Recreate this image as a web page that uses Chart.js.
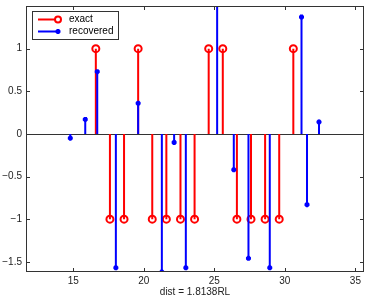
<!DOCTYPE html>
<html>
<head>
<meta charset="utf-8">
<script src="https://cdn.jsdelivr.net/npm/chart.js@4/dist/chart.umd.min.js"></script>
<style>
  html, body { margin: 0; padding: 0; background: #fff; }
  #wrap { width: 376px; height: 299px; }
</style>
</head>
<body>
<div id="wrap"><canvas id="chart" width="376" height="299"></canvas></div>
<script>
// exact spikes
var exactX = [16.6, 17.6, 18.6, 19.6, 20.6, 21.6, 22.6, 23.6, 24.6, 25.6, 26.6, 27.6, 28.6, 29.6, 30.6];
var exactY = [1, -1, -1, 1, -1, -1, -1, -1, 1, 1, -1, -1, -1, -1, 1];
// recovered spikes
var recX = [14.79, 15.85, 16.70, 18.02, 19.60, 21.28, 22.15, 22.98, 25.20, 26.38, 27.42, 28.93, 31.18, 31.57, 32.42];
var recY = [-0.05, 0.17, 0.73, -1.57, 0.36, -1.62, -0.10, -1.57, 1.65, -0.42, -1.46, -1.57, 1.37, -0.83, 0.14];
var xTicks = [15, 20, 25, 30, 35];
var yTicks = [-1.5, -1, -0.5, 0, 0.5, 1];
var xLimits = [11.65, 35.61];
var yLimits = [-1.62, 1.5];

var RED = '#ff0000';
var BLUE = '#0000ff';
var FONT = 'Liberation Sans, Arial, sans-serif';

function stems(xs, ys) {
    var out = [];
    for (var i = 0; i < xs.length; i++) {
        out.push({x: xs[i], y: 0});
        out.push({x: xs[i], y: ys[i]});
        out.push({x: xs[i], y: null});
    }
    return out;
}
function tips(xs, ys) {
    return xs.map(function (x, i) { return {x: x, y: ys[i]}; });
}
function minus(v) {
    return String(v).replace('-', '\u2212');
}

var framePlugin = {
    id: 'frame',
    beforeDatasetsDraw: function (chart) {
        var ctx = chart.ctx, a = chart.chartArea;
        var y0 = chart.scales.y.getPixelForValue(0);
        ctx.save();
        ctx.strokeStyle = '#333';
        ctx.lineWidth = 1;
        ctx.beginPath();
        ctx.moveTo(a.left, Math.round(y0) + 0.5);
        ctx.lineTo(a.right, Math.round(y0) + 0.5);
        ctx.stroke();
        ctx.restore();
    },
    afterDatasetsDraw: function (chart) {
        var ctx = chart.ctx, a = chart.chartArea;
        var sx = chart.scales.x, sy = chart.scales.y;
        ctx.save();
        ctx.strokeStyle = '#333';
        ctx.lineWidth = 1;
        ctx.strokeRect(a.left + 0.5, a.top + 0.5, a.right - a.left - 1, a.bottom - a.top - 1);
        ctx.beginPath();
        xTicks.forEach(function (v) {
            var px = Math.round(sx.getPixelForValue(v)) + 0.5;
            ctx.moveTo(px, a.bottom); ctx.lineTo(px, a.bottom - 4);
            ctx.moveTo(px, a.top); ctx.lineTo(px, a.top + 4);
        });
        yTicks.forEach(function (v) {
            var py = Math.round(sy.getPixelForValue(v)) + 0.5;
            ctx.moveTo(a.left, py); ctx.lineTo(a.left + 4, py);
            ctx.moveTo(a.right, py); ctx.lineTo(a.right - 4, py);
        });
        ctx.stroke();
        ctx.restore();
    },
    afterDraw: function (chart) {
        // legend box, top left inside the axes
        var ctx = chart.ctx, a = chart.chartArea;
        var bx = a.left + 6, by = a.top + 5, bw = 86, bh = 28;
        ctx.save();
        ctx.fillStyle = '#fff';
        ctx.fillRect(bx, by, bw, bh);
        ctx.strokeStyle = '#333';
        ctx.lineWidth = 1;
        ctx.strokeRect(bx + 0.5, by + 0.5, bw, bh);
        var rows = [
            {label: 'exact', color: RED, y: by + 8.5, style: 'circle'},
            {label: 'recovered', color: BLUE, y: by + 20.5, style: 'star'}
        ];
        rows.forEach(function (r) {
            ctx.strokeStyle = r.color;
            ctx.fillStyle = r.style === 'circle' ? '#fff' : r.color;
            ctx.lineWidth = 2;
            ctx.beginPath();
            ctx.moveTo(bx + 6, r.y); ctx.lineTo(bx + 27, r.y);
            ctx.stroke();
            Chart.helpers.drawPoint(ctx, {pointStyle: r.style, radius: r.style === 'circle' ? 3 : 2.5, borderWidth: 2}, bx + 26, r.y);
            ctx.fillStyle = '#000';
            ctx.font = '10px ' + FONT;
            ctx.textBaseline = 'middle';
            ctx.fillText(r.label, bx + 37, r.y);
        });
        ctx.restore();
    }
};

new Chart(document.getElementById('chart'), {
    type: 'line',
    data: {
        datasets: [
            {data: stems(exactX, exactY), borderColor: RED, borderWidth: 2, pointRadius: 0, spanGaps: false, order: 3},
            {data: tips(exactX, exactY), showLine: false, borderColor: RED, backgroundColor: 'rgba(0,0,0,0)',
                pointStyle: 'circle', pointRadius: 3.5, pointBorderWidth: 2, order: 2},
            {data: stems(recX, recY), borderColor: BLUE, borderWidth: 2, pointRadius: 0, spanGaps: false, order: 1},
            {data: tips(recX, recY), showLine: false, borderColor: BLUE, backgroundColor: BLUE,
                pointStyle: 'star', pointRadius: 2.5, pointBorderWidth: 2, order: 0}
        ]
    },
    options: {
        responsive: false,
        animation: false,
        layout: {padding: {top: 4, right: 12, left: 0, bottom: 0}},
        plugins: {legend: {display: false}, tooltip: {enabled: false}},
        scales: {
            x: {
                type: 'linear',
                min: xLimits[0], max: xLimits[1],
                grid: {display: false, drawTicks: false, tickLength: 0},
                border: {display: false},
                afterBuildTicks: function (s) { s.ticks = xTicks.map(function (v) { return {value: v}; }); },
                afterFit: function (s) { s.height = 27; s.paddingLeft = 0; s.paddingRight = 0; },
                ticks: {padding: 3, color: '#222', font: {family: FONT, size: 10}, maxRotation: 0,
                    callback: function (v) { return minus(v); }},
                title: {display: true, text: 'dist = 1.8138RL', color: '#222',
                    font: {family: FONT, size: 10}, padding: {top: 0, bottom: 1}}
            },
            y: {
                type: 'linear',
                min: yLimits[0], max: yLimits[1],
                grid: {display: false, drawTicks: false, tickLength: 0},
                border: {display: false},
                afterBuildTicks: function (s) { s.ticks = yTicks.map(function (v) { return {value: v}; }); },
                afterFit: function (s) { s.width = 26; s.paddingTop = 0; s.paddingBottom = 0; },
                ticks: {padding: 4, color: '#222', font: {family: FONT, size: 10},
                    callback: function (v) { return minus(v); }}
            }
        }
    },
    plugins: [framePlugin]
});
</script>
</body>
</html>
